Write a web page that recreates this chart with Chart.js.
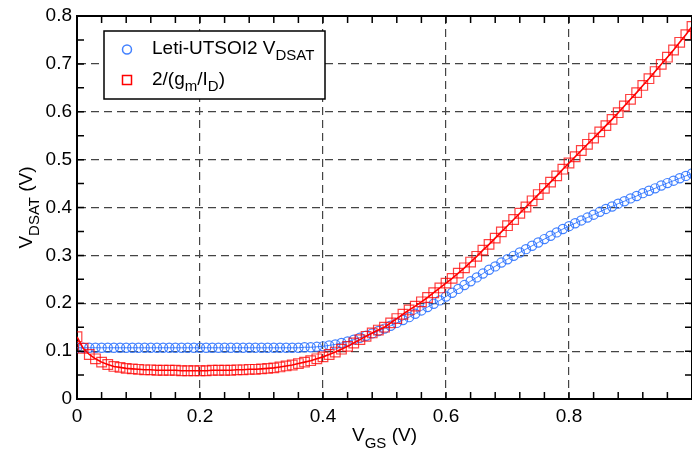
<!DOCTYPE html>
<html>
<head>
<meta charset="utf-8">
<style>
  html, body { margin: 0; padding: 0; background: #fff; }
  #wrap { width: 692px; height: 450px; }
</style>
<script src="https://cdn.jsdelivr.net/npm/chart.js@4.4.1/dist/chart.umd.min.js"></script>
</head>
<body>
<div id="wrap"><canvas id="chart" width="692" height="450"></canvas></div>
<script>
// V_GS sweep (V)
const vgs = [
  0.00, 0.01, 0.02, 0.03, 0.04, 0.05, 0.06, 0.07, 0.08, 0.09,
  0.10, 0.11, 0.12, 0.13, 0.14, 0.15, 0.16, 0.17, 0.18, 0.19,
  0.20, 0.21, 0.22, 0.23, 0.24, 0.25, 0.26, 0.27, 0.28, 0.29,
  0.30, 0.31, 0.32, 0.33, 0.34, 0.35, 0.36, 0.37, 0.38, 0.39,
  0.40, 0.41, 0.42, 0.43, 0.44, 0.45, 0.46, 0.47, 0.48, 0.49,
  0.50, 0.51, 0.52, 0.53, 0.54, 0.55, 0.56, 0.57, 0.58, 0.59,
  0.60, 0.61, 0.62, 0.63, 0.64, 0.65, 0.66, 0.67, 0.68, 0.69,
  0.70, 0.71, 0.72, 0.73, 0.74, 0.75, 0.76, 0.77, 0.78, 0.79,
  0.80, 0.81, 0.82, 0.83, 0.84, 0.85, 0.86, 0.87, 0.88, 0.89,
  0.90, 0.91, 0.92, 0.93, 0.94, 0.95, 0.96, 0.97, 0.98, 0.99,
  1.00
];

// Leti-UTSOI2 V_DSAT (V)
const vdsatLeti = [
  0.107, 0.107, 0.107, 0.107, 0.107, 0.107, 0.107, 0.107, 0.107, 0.107,
  0.107, 0.107, 0.107, 0.107, 0.107, 0.107, 0.107, 0.107, 0.107, 0.107,
  0.107, 0.107, 0.107, 0.107, 0.107, 0.107, 0.107, 0.107, 0.107, 0.107,
  0.107, 0.107, 0.107, 0.107, 0.107, 0.107, 0.107, 0.108, 0.108, 0.109,
  0.110, 0.112, 0.114, 0.117, 0.120, 0.124, 0.128, 0.132, 0.137, 0.142,
  0.147, 0.153, 0.159, 0.165, 0.171, 0.178, 0.185, 0.192, 0.199, 0.206,
  0.214, 0.222, 0.230, 0.238, 0.246, 0.254, 0.262, 0.270, 0.277, 0.285,
  0.292, 0.299, 0.306, 0.313, 0.320, 0.327, 0.334, 0.341, 0.348, 0.355,
  0.361, 0.367, 0.373, 0.379, 0.385, 0.391, 0.397, 0.402, 0.408, 0.413,
  0.419, 0.424, 0.430, 0.435, 0.440, 0.446, 0.451, 0.456, 0.461, 0.466,
  0.471
];

// 2/(gm/ID) (V)
const vdsatGmId = [
  0.130, 0.106, 0.093, 0.084, 0.077, 0.072, 0.068, 0.066, 0.064, 0.063,
  0.062, 0.061, 0.061, 0.060, 0.060, 0.060, 0.060, 0.059, 0.059, 0.059,
  0.059, 0.059, 0.060, 0.060, 0.060, 0.060, 0.061, 0.061, 0.062, 0.062,
  0.063, 0.064, 0.065, 0.067, 0.069, 0.071, 0.074, 0.077, 0.080, 0.084,
  0.088, 0.093, 0.098, 0.104, 0.110, 0.117, 0.124, 0.131, 0.138, 0.144,
  0.150, 0.159, 0.168, 0.177, 0.186, 0.194, 0.203, 0.212, 0.222, 0.232,
  0.242, 0.252, 0.263, 0.274, 0.286, 0.298, 0.311, 0.323, 0.336, 0.349,
  0.362, 0.375, 0.388, 0.401, 0.414, 0.427, 0.440, 0.453, 0.466, 0.480,
  0.493, 0.506, 0.519, 0.532, 0.545, 0.558, 0.571, 0.584, 0.598, 0.612,
  0.626, 0.640, 0.655, 0.669, 0.684, 0.699, 0.714, 0.729, 0.745, 0.761,
  0.778
];

const xTicks = [0, 0.2, 0.4, 0.6, 0.8, 1.0];
const yTicks = [0, 0.1, 0.2, 0.3, 0.4, 0.5, 0.6, 0.7, 0.8];
const xMinorTicks = [0.04, 0.08, 0.12, 0.16, 0.24, 0.28, 0.32, 0.36, 0.44, 0.48, 0.52, 0.56,
                     0.64, 0.68, 0.72, 0.76, 0.84, 0.88, 0.92, 0.96];
const yMinorTicks = [0.05, 0.15, 0.25, 0.35, 0.45, 0.55, 0.65, 0.75];

const FONT = '"Liberation Sans", Arial, sans-serif';
const BLUE = 'rgba(45, 115, 255, 0.9)';
const RED = 'rgba(255, 0, 0, 0.75)';

// draws text runs, some of them as subscripts
function richWidth(ctx, parts, size, subSize) {
  let w = 0;
  parts.forEach(p => {
    ctx.font = (p.sub ? subSize : size) + 'px ' + FONT;
    w += ctx.measureText(p.t).width;
  });
  return w;
}
function drawRich(ctx, parts, x, y, size, subSize, subDrop) {
  let cx = x;
  parts.forEach(p => {
    ctx.font = (p.sub ? subSize : size) + 'px ' + FONT;
    ctx.fillText(p.t, cx, p.sub ? y + subDrop : y);
    cx += ctx.measureText(p.t).width;
  });
}

const framePlugin = {
  id: 'frame',
  afterDraw(chart) {
    const ctx = chart.ctx;
    const a = chart.chartArea;
    const xs = chart.scales.x;
    const ys = chart.scales.y;
    ctx.save();
    ctx.strokeStyle = '#000';

    // inward ticks on all four sides
    ctx.lineWidth = 1.5;
    ctx.beginPath();
    xTicks.concat(xMinorTicks).forEach(v => {
      const px = xs.getPixelForValue(v);
      ctx.moveTo(px, a.bottom); ctx.lineTo(px, a.bottom - 7);
      ctx.moveTo(px, a.top); ctx.lineTo(px, a.top + 7);
    });
    yTicks.concat(yMinorTicks).forEach(v => {
      const py = ys.getPixelForValue(v);
      ctx.moveTo(a.left, py); ctx.lineTo(a.left + 7, py);
      ctx.moveTo(a.right, py); ctx.lineTo(a.right - 7, py);
    });
    ctx.stroke();

    // top and right frame lines
    ctx.lineWidth = 2;
    ctx.beginPath();
    ctx.moveTo(a.left, a.top); ctx.lineTo(a.right, a.top);
    ctx.moveTo(a.right, a.top); ctx.lineTo(a.right, a.bottom);
    ctx.stroke();

    // axis titles
    ctx.fillStyle = '#000';
    ctx.textBaseline = 'alphabetic';
    ctx.textAlign = 'left';
    const xTitle = [{ t: 'V' }, { t: 'GS', sub: true }, { t: ' (V)' }];
    const xw = richWidth(ctx, xTitle, 19, 15);
    drawRich(ctx, xTitle, (a.left + a.right) / 2 - xw / 2, 441, 19, 15, 7);

    const yTitle = [{ t: 'V' }, { t: 'DSAT', sub: true }, { t: ' (V)' }];
    const yw = richWidth(ctx, yTitle, 19, 15);
    ctx.translate(32, (a.top + a.bottom) / 2);
    ctx.rotate(-Math.PI / 2);
    drawRich(ctx, yTitle, -yw / 2, 0, 19, 15, 7);
    ctx.restore();

    // legend box
    ctx.save();
    ctx.fillStyle = '#fff';
    ctx.fillRect(104, 31, 221, 68);
    ctx.strokeStyle = '#000';
    ctx.lineWidth = 1.5;
    ctx.strokeRect(104, 31, 221, 68);

    ctx.lineWidth = 1.5;
    ctx.strokeStyle = BLUE;
    ctx.beginPath();
    ctx.arc(127, 49.5, 4.5, 0, Math.PI * 2);
    ctx.stroke();
    ctx.strokeStyle = 'rgb(255, 0, 0)';
    ctx.strokeRect(122.5, 75.5, 9, 9);

    ctx.fillStyle = '#000';
    drawRich(ctx, [{ t: 'Leti-UTSOI2 V' }, { t: 'DSAT', sub: true }], 152, 54, 19, 15, 6);
    drawRich(ctx, [{ t: '2/(g' }, { t: 'm', sub: true }, { t: '/I' }, { t: 'D', sub: true }, { t: ')' }],
      152, 85, 19, 15, 6);
    ctx.restore();
  }
};

new Chart(document.getElementById('chart'), {
  type: 'line',
  data: {
    datasets: [
      {
        label: 'Leti-UTSOI2 VDSAT',
        data: vgs.map((v, i) => ({ x: v, y: vdsatLeti[i] })),
        borderColor: BLUE,
        borderWidth: 1,
        pointStyle: 'circle',
        pointRadius: 4.6,
        pointBorderWidth: 1.2,
        pointBorderColor: BLUE,
        pointBackgroundColor: 'rgba(0,0,0,0)',
        order: 2
      },
      {
        label: '2/(gm/ID)',
        data: vgs.map((v, i) => ({ x: v, y: vdsatGmId[i] })),
        borderColor: 'rgb(255, 0, 0)',
        borderWidth: 1.6,
        pointStyle: 'rect',
        pointRadius: 6.8,
        pointBorderWidth: 1.2,
        pointBorderColor: RED,
        pointBackgroundColor: 'rgba(0,0,0,0)',
        order: 1
      }
    ]
  },
  options: {
    responsive: false,
    animation: false,
    layout: { autoPadding: false, padding: { top: 16, left: 0, right: 0, bottom: 0 } },
    plugins: {
      legend: { display: false },
      tooltip: { enabled: false }
    },
    scales: {
      x: {
        type: 'linear',
        min: 0,
        max: 1,
        afterBuildTicks: s => { s.ticks = xTicks.map(v => ({ value: v })); },
        afterFit: s => { s.height = 51; s.paddingLeft = 0; s.paddingRight = 0; },
        ticks: {
          padding: 6,
          color: '#000',
          font: { family: FONT, size: 19 },
          maxRotation: 0,
          callback: v => (v === 0 ? '0' : v === 1 ? '' : v.toFixed(1))
        },
        grid: {
          drawTicks: false,
          color: ctx => (ctx.tick && (ctx.tick.value === 0 || ctx.tick.value === 1) ? 'rgba(0,0,0,0)' : '#444'),
          lineWidth: 1.2
        },
        border: { display: true, color: '#000', width: 2, dash: [8, 5] }
      },
      y: {
        type: 'linear',
        min: 0,
        max: 0.8,
        afterBuildTicks: s => { s.ticks = yTicks.map(v => ({ value: v })); },
        afterFit: s => { s.width = 77; s.paddingTop = 0; s.paddingBottom = 0; },
        ticks: {
          padding: 5,
          color: '#000',
          font: { family: FONT, size: 19 },
          callback: v => (v === 0 ? '0' : v.toFixed(1))
        },
        grid: {
          drawTicks: false,
          color: ctx => (ctx.tick && (ctx.tick.value === 0 || ctx.tick.value === 0.8) ? 'rgba(0,0,0,0)' : '#444'),
          lineWidth: 1.2
        },
        border: { display: true, color: '#000', width: 2, dash: [8, 5] }
      }
    }
  },
  plugins: [framePlugin]
});
</script>
</body>
</html>
